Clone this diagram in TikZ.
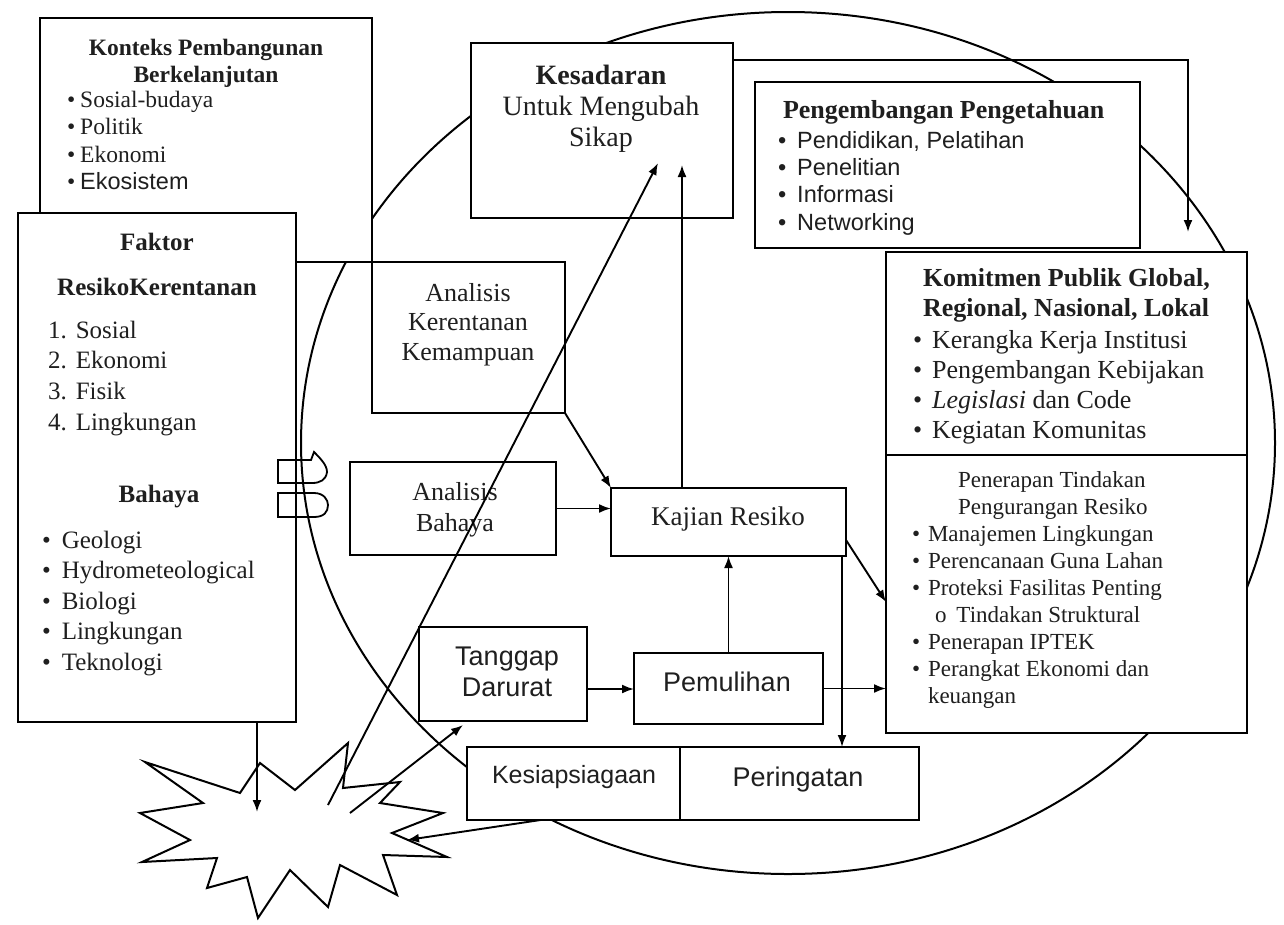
\documentclass[tikz,border=0pt]{standalone}
\usepackage{fontspec}
\setmainfont{Liberation Serif}
\setsansfont{Liberation Sans}
\usetikzlibrary{arrows.meta}
\newcommand\myfs[2]{\fontsize{#1}{#2}\selectfont}
\begin{document}
\begin{tikzpicture}[x=1pt,y=-1pt,
  box/.style={draw, fill=white, line width=2.1pt, inner sep=0pt, outer sep=0pt},
  txt/.style={inner sep=0pt, outer sep=0pt, text=black!88},
  arr/.style={line width=1.9pt, -{Latex[length=12pt,width=9pt]}},
  ln/.style={line width=2pt}]
\useasboundingbox (0,0) rectangle (1284,924);
\fill[white] (0,0) rectangle (1284,924);
% big cycle
\draw[ln] (788,443) ellipse [x radius=487, y radius=431];

% boxes
\node[box, minimum width=332pt, minimum height=244pt] (konteks) at (206,140) {};
\node[box, minimum width=278pt, minimum height=509pt] (faktor) at (157,467.5) {};
\node[box, minimum width=193pt, minimum height=151pt] (akk) at (468.5,337.5) {};
\node[box, minimum width=206pt, minimum height=93pt] (ab) at (453,508.5) {};
\node[box, minimum width=235pt, minimum height=68pt] (kajian) at (728.5,522) {};
\node[box, minimum width=262pt, minimum height=175pt] (kesadaran) at (602,130.5) {};
\node[box, minimum width=385pt, minimum height=166pt] (peng) at (947.5,165) {};
\node[box, minimum width=361pt, minimum height=203pt] (komit) at (1066.5,353.5) {};
\node[box, minimum width=361pt, minimum height=278pt] (pener) at (1066.5,594) {};
\node[box, minimum width=168pt, minimum height=94pt] (tanggap) at (503,674) {};
\node[box, minimum width=189pt, minimum height=71pt] (pemulihan) at (728.5,688.5) {};
\node[box, minimum width=213pt, minimum height=73pt] (kesiap) at (573.5,783.5) {};
\node[box, minimum width=239pt, minimum height=73pt] (pering) at (799.5,783.5) {};

% starburst
\draw[ln, fill=white] (145,762) -- (203,803) -- (140,813) -- (190,840) -- (142,862) -- (217,858)
  -- (207,888) -- (247,877) -- (258,918) -- (290,870) -- (328,907) -- (340,865) -- (397,895)
  -- (383,855) -- (447,857) -- (392,833) -- (443,813) -- (380,803) -- (400,782) -- (343,788)
  -- (348,743) -- (295,790) -- (260,763) -- (240,793) -- cycle;

% tabs at the Faktor box
\draw[line width=1.8pt] (278,460) -- (311,460) -- (314,452) .. controls (320,458) and (327,465) .. (327,472)
  .. controls (326,480) and (320,483) .. (312,483) -- (278,483) -- cycle;
\draw[line width=1.8pt] (278,493) -- (314,493) .. controls (324,493) and (328,500) .. (328,505)
  .. controls (328,512) and (324,517) .. (314,517) -- (278,517) -- cycle;

% texts
\node[txt, anchor=north, align=center, font=\myfs{23.5}{27}\bfseries] (konteksT) at (206,39.3) {Konteks Pembangunan\\Berkelanjutan};
\node[txt, anchor=north west, align=left, font=\myfs{23.5}{27.4}] (konteksL) at (67,91) {\textbullet\hspace{5pt}Sosial-budaya\\\textbullet\hspace{5pt}Politik\\\textbullet\hspace{5pt}Ekonomi\\\textbullet\hspace{5pt}{\sffamily Ekosistem}};

\node[txt, font=\myfs{25}{30}\bfseries] (faktorT) at (157,242) {Faktor};
\node[txt, font=\myfs{25}{30}\bfseries] (faktorT2) at (157,287) {ResikoKerentanan};
\node[txt, anchor=north west, align=left, font=\myfs{25}{30.7}] (faktorL) at (48,320.7) {1.\hspace{9pt}Sosial\\2.\hspace{9pt}Ekonomi\\3.\hspace{9pt}Fisik\\4.\hspace{9pt}Lingkungan};
\node[txt, font=\myfs{25}{30}\bfseries] (bahayaT) at (159,497) {Bahaya};
\node[txt, anchor=north west, align=left, font=\myfs{25}{30.5}] (bahayaL) at (42,530.7) {\textbullet\hspace{11pt}Geologi\\\textbullet\hspace{11pt}Hydrometeological\\\textbullet\hspace{11pt}Biologi\\\textbullet\hspace{11pt}Lingkungan\\\textbullet\hspace{11pt}Teknologi};

\node[txt, anchor=north, align=center, font=\myfs{28}{31}] (kesT) at (601,64.6) {\textbf{Kesadaran}\\Untuk Mengubah\\Sikap};

\node[txt, anchor=north west, font=\myfs{26}{30}\bfseries] (pengT) at (783,100.4) {Pengembangan Pengetahuan};
\node[txt, anchor=north west, align=left, font=\sffamily\myfs{23.5}{27.3}] (pengL) at (778,131.3) {\textbullet\hspace{11pt}Pendidikan, Pelatihan\\\textbullet\hspace{11pt}Penelitian\\\textbullet\hspace{11pt}Informasi\\\textbullet\hspace{11pt}Networking};

\node[txt, anchor=north west, align=left, font=\myfs{26}{30}\bfseries] (komitT) at (923,268.4) {Komitmen Publik Global,\\Regional, Nasional, Lokal};
\node[txt, anchor=north west, align=left, font=\myfs{26}{30}] (komitL) at (913,330.4) {\textbullet\hspace{10pt}Kerangka Kerja Institusi\\\textbullet\hspace{10pt}Pengembangan Kebijakan\\\textbullet\hspace{10pt}\textit{Legislasi} dan Code\\\textbullet\hspace{10pt}Kegiatan Komunitas};

\node[txt, anchor=north west, align=left, font=\myfs{23}{27}] (penerL) at (912,471.3) {\hspace*{46pt}Penerapan Tindakan\\\hspace*{46pt}Pengurangan Resiko\\\textbullet\hspace{8pt}Manajemen Lingkungan\\\textbullet\hspace{8pt}Perencanaan Guna Lahan\\\textbullet\hspace{8pt}Proteksi Fasilitas Penting\\\hspace*{23pt}o\hspace{10pt}Tindakan Struktural\\\textbullet\hspace{8pt}Penerapan IPTEK\\\textbullet\hspace{8pt}Perangkat Ekonomi dan\\\hspace*{16pt}keuangan};

\node[txt, anchor=north, align=center, font=\myfs{26}{29.5}] (akkT) at (468,283.4) {Analisis\\Kerentanan\\Kemampuan};
\node[txt, anchor=north, align=center, font=\myfs{26}{31}] (abT) at (455,482.4) {Analisis\\Bahaya};
\node[txt, font=\myfs{27}{31}] (kajT) at (728,519) {Kajian Resiko};
\node[txt, anchor=north, align=center, font=\sffamily\myfs{27}{31}] (tgT) at (507,647) {Tanggap\\Darurat};
\node[txt, font=\sffamily\myfs{27}{31}] (pemT) at (727,682) {Pemulihan};
\node[txt, font=\sffamily\myfs{25}{30}] (ksT) at (574,777) {Kesiapsiagaan};
\node[txt, font=\sffamily\myfs{27}{31}] (prT) at (798,780) {Peringatan};

% connectors
\coordinate (bT) at (257,812);
\coordinate (bA) at (328,805);
\coordinate (bB) at (350,813);
\coordinate (bC) at (407,840);
\coordinate (kesA) at (658,163);
\coordinate (kesB) at (682,165);
\coordinate (kD) at (1188,232);

\draw[arr] (faktor.south -| bT) -- (bT);
\draw[arr] (bA) -- (kesA);
\draw[arr] (kajian.north -| kesB) -- (kesB);
\draw[arr] (akk.south east) -- (kajian.north west);
\draw[arr] (ab.east) -- (ab.east -| kajian.west);
\draw[arr] (pemulihan.north) -- (pemulihan.north |- kajian.south);
\coordinate (kjS) at ([xshift=-4pt]kajian.south east);
\draw[arr] (kjS) -- (kjS |- pering.north);
\draw[arr] ([yshift=-18pt]kajian.east) -- ([yshift=-8pt]pener.west);
\coordinate (tgE) at ([yshift=-15pt]tanggap.east);
\draw[arr] (tgE) -- (tgE -| pemulihan.west);
\draw[arr] (pemulihan.east) -- (pemulihan.east -| pener.west);
\draw[arr] (bB) -- ([xshift=44pt,yshift=-4pt]tanggap.south west);
\draw[arr] ([xshift=-33pt]kesiap.south) -- (bC);
\coordinate (kR) at ([yshift=-17pt]kesadaran.north east);
\draw[arr] (kR) -| (kD);
\end{tikzpicture}
\end{document}
